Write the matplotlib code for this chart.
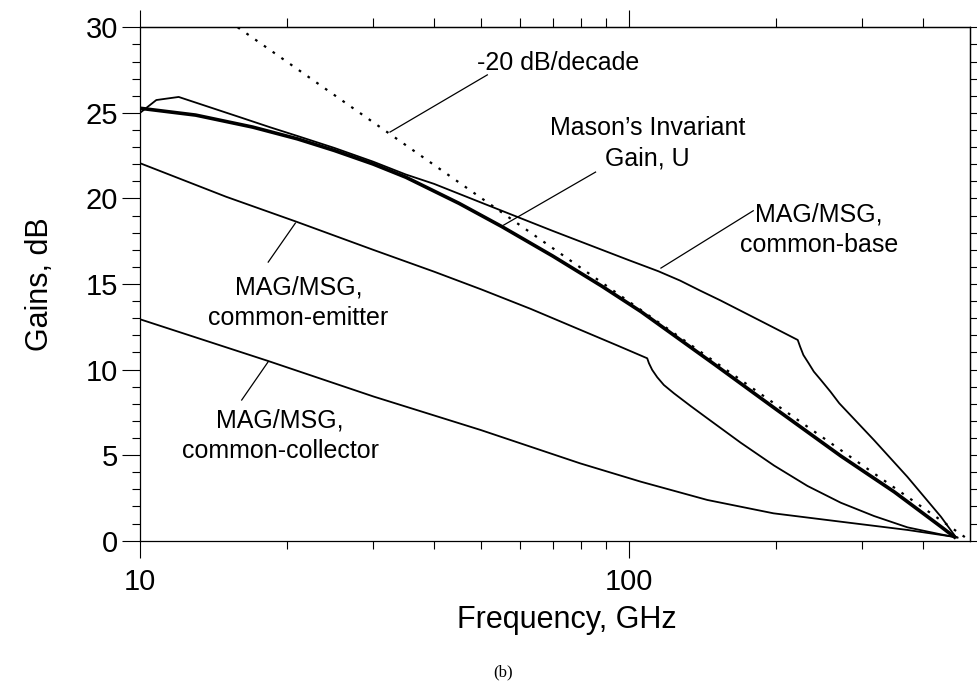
import matplotlib
matplotlib.use("Agg")
import matplotlib.pyplot as plt
from matplotlib.ticker import FixedLocator, NullFormatter

# values (frequency in GHz, gain in dB)
# Mason's invariant gain U
f_u = [10, 13, 17, 21, 25, 30, 35, 45, 55, 70, 88, 106, 150, 200, 272, 350, 436, 468]
g_u = [25.27, 24.87, 24.17, 23.48, 22.8, 22.01, 21.24, 19.71, 18.36, 16.63, 14.89, 13.39,
       10.3, 7.7, 4.95, 2.85, 0.82, 0.15]

# MAG/MSG common-base
f_cb = [10, 10.8, 12, 16, 18.5, 21, 25, 30, 35, 40, 50, 70, 100, 115, 127.5, 140, 154, 190,
        222, 224.5, 228, 233.7, 239.5, 247.6, 259, 270, 318, 372, 436, 468]
g_cb = [25.0, 25.75, 25.93, 24.75, 24.15, 23.65, 22.95, 22.15, 21.4, 20.85, 19.75, 18.1, 16.4,
        15.75, 15.2, 14.62, 14.05, 12.72, 11.73,
        11.34, 10.85, 10.37, 9.88, 9.39, 8.71, 8.03, 5.88, 3.74, 1.40, 0.2]

# MAG/MSG common-emitter
f_ce = [10, 15, 20.9, 30, 40, 50, 63, 80, 95, 109.2,
        110.1, 111.8, 114.5, 118.1, 123.9, 134, 145, 169.6, 198.6, 232.4, 271.9, 318.2,
        372.4, 435.9, 471.6]
g_ce = [22.06, 20.1, 18.64, 17.0, 15.72, 14.68, 13.55, 12.3, 11.4, 10.66,
        10.37, 9.98, 9.55, 9.10, 8.61, 7.87, 7.15, 5.73, 4.39, 3.20, 2.22, 1.44,
        0.78, 0.37, 0.18]

# MAG/MSG common-collector
f_cc = [10, 18.3, 30.1, 49.8, 79.6, 105.9, 145, 198, 272, 372, 470]
g_cc = [12.94, 10.5, 8.42, 6.47, 4.52, 3.45, 2.38, 1.60, 1.11, 0.63, 0.2]

# -20 dB/decade asymptote
f_asym = [15.85, 500]
g_asym = [30, 0]

x_major = [10, 100]
x_minor = [20, 30, 40, 50, 60, 70, 80, 90, 200, 300, 400]
y_major = [0, 5, 10, 15, 20, 25, 30]

plt.rcParams['font.family'] = ['Liberation Sans', 'DejaVu Sans']

fig = plt.figure(figsize=(9.77, 6.84), dpi=100)
ax = fig.add_axes([140 / 977, 1 - 540.7 / 684, 830 / 977, 513.4 / 684])

ax.plot(f_cc, g_cc, color='k', lw=1.3)
ax.plot(f_ce, g_ce, color='k', lw=1.3)
ax.plot(f_cb, g_cb, color='k', lw=1.3)
ax.plot(f_u, g_u, color='k', lw=2.6, solid_capstyle='butt')
ax.plot(f_asym, g_asym, color='k', lw=1.6, linestyle=(0, (1.2, 3.6)))

ax.set_xscale('log')
ax.set_xlim(10, 500)
ax.set_ylim(0, 30)

ax.xaxis.set_major_locator(FixedLocator(x_major))
ax.xaxis.set_minor_locator(FixedLocator(x_minor))
ax.xaxis.set_minor_formatter(NullFormatter())
ax.set_xticklabels(['10', '100'])
ax.yaxis.set_major_locator(FixedLocator(y_major))
ax.yaxis.set_minor_locator(FixedLocator(range(0, 31)))

ax.tick_params(axis='x', which='major', direction='out', length=12, width=0.8,
               labelsize=21, pad=8)
ax.tick_params(axis='x', which='minor', direction='out', length=6, width=0.8)
ax.tick_params(axis='y', which='major', direction='out', length=13, width=0.8,
               labelsize=21, pad=3)
ax.tick_params(axis='y', which='minor', direction='out', length=6, width=0.8)
for sp in ax.spines.values():
    sp.set_linewidth(0.9)

# top and right ticks, no labels
top = ax.secondary_xaxis('top')
top.xaxis.set_major_locator(FixedLocator(x_major))
top.xaxis.set_minor_locator(FixedLocator(x_minor))
top.xaxis.set_major_formatter(NullFormatter())
top.xaxis.set_minor_formatter(NullFormatter())
top.tick_params(which='major', direction='out', length=12, width=0.8)
top.tick_params(which='minor', direction='out', length=6.5, width=0.8)
top.spines['top'].set_linewidth(0.9)

right = ax.secondary_yaxis('right')
right.yaxis.set_major_locator(FixedLocator(y_major))
right.yaxis.set_minor_locator(FixedLocator(range(0, 31)))
right.yaxis.set_major_formatter(NullFormatter())
right.tick_params(which='both', direction='out', length=5, width=0.8)
right.spines['right'].set_linewidth(0.9)

ax.set_xlabel('Frequency, GHz', fontsize=22)
ax.xaxis.label.set_verticalalignment('baseline')
ax.xaxis.set_label_coords(0.514, -0.170)
ax.set_ylabel('Gains, dB', fontsize=22)
ax.yaxis.label.set_verticalalignment('center')
ax.yaxis.set_label_coords(-0.12, 0.5)

# annotations
fs = 18
ax.text(71.8, 27.5, '-20 dB/decade', fontsize=fs, ha='center', va='baseline')
ax.plot([51.4, 32.5], [27.22, 23.88], color='k', lw=0.9)

ax.text(109.2, 23.7, 'Mason\u2019s Invariant', fontsize=fs, ha='center', va='baseline')
ax.text(109.2, 21.95, 'Gain, U', fontsize=fs, ha='center', va='baseline')
ax.plot([85.6, 55.5], [21.54, 18.44], color='k', lw=0.9)

ax.text(245, 18.63, 'MAG/MSG,', fontsize=fs, ha='center', va='baseline')
ax.text(245, 16.87, 'common-base', fontsize=fs, ha='center', va='baseline')
ax.plot([180, 116.5], [19.28, 15.93], color='k', lw=0.9)

ax.text(21.1, 14.36, 'MAG/MSG,', fontsize=fs, ha='center', va='baseline')
ax.text(21.1, 12.61, 'common-emitter', fontsize=fs, ha='center', va='baseline')
ax.plot([18.3, 20.8], [16.28, 18.56], color='k', lw=0.9)

ax.text(19.36, 6.59, 'MAG/MSG,', fontsize=fs, ha='center', va='baseline')
ax.text(19.36, 4.83, 'common-collector', fontsize=fs, ha='center', va='baseline')
ax.plot([16.15, 18.3], [8.22, 10.46], color='k', lw=0.9)

fig.text(503 / 977, 1 - 672 / 684, '(b)', fontsize=12, family='Liberation Serif',
         ha='center', va='center')

fig.savefig('out.png', dpi=100)
